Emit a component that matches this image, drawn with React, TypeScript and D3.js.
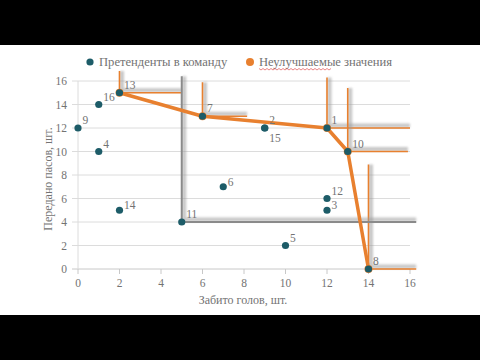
import React from "react";
import * as d3 from "d3";

const ids = [1, 2, 3, 4, 5, 6, 7, 8, 9, 10, 11, 12, 13, 14, 15, 16];
const goals = [12, 9, 12, 1, 10, 7, 6, 14, 0, 13, 5, 12, 2, 2, 9, 1];
const passes = [12, 12, 5, 10, 2, 7, 13, 0, 12, 10, 4, 6, 15, 5, 12, 14];
const labelBelow = [15];
const labelLow = [3, 6, 14];

const paretoGoals = [2, 6, 12, 13, 14];
const paretoPasses = [15, 13, 12, 10, 0];

// dominance corners: point, top of vertical arm, end of horizontal arm
const cornerX = [2, 6, 12, 13, 14, 5];
const cornerY = [15, 13, 12, 10, 0, 4];
const cornerTop = [16.85, 15.9, 16.3, 15.4, 8.9, 16.4];
const cornerRight = [5, 8.15, 16, 15.9, 16.3, 16.3];
const cornerPareto = [true, true, true, true, true, false];

const xTicks = [0, 2, 4, 6, 8, 10, 12, 14, 16];
const yTicks = [0, 2, 4, 6, 8, 10, 12, 14, 16];

const legendLabels = ["Претенденты в команду", "Неулучшаемые значения"];
const xTitle = "Забито голов, шт.";
const yTitle = "Передано пасов, шт.";

const W = 480;
const H = 360;
const TEAL = "#1d5c68";
const ORANGE = "#e8802f";
const TEXT = "#737373";
const FONT = "'Liberation Serif', 'DejaVu Serif', serif";

export default function App() {
  const x = d3.scaleLinear().domain([0, 16]).range([78, 410]);
  const y = d3.scaleLinear().domain([0, 16]).range([269, 81]);

  const paretoLine = d3
    .line<number>()
    .x((i) => x(paretoGoals[i]))
    .y((i) => y(paretoPasses[i]));

  const wave = d3.range(0, 37).map((i) => [259 + i * 2, 68.5 + (i % 2 === 0 ? 0 : 1.5)] as [number, number]);

  return (
    <svg
      width={W}
      height={H}
      style={{ position: "absolute", left: 0, top: 0, background: "#fff" }}
      fontFamily={FONT}
    >
      <defs>
        <filter id="sh" x="-20%" y="-20%" width="140%" height="140%">
          <feGaussianBlur stdDeviation="0.8" />
        </filter>
      </defs>
      <rect x={0} y={45} width={W} height={270} fill="#fff" />

      {/* grid */}
      {yTicks.map((t) => (
        <g key={"gy" + t}>
          <line x1={72} x2={410} y1={y(t)} y2={y(t)} stroke={t === 0 ? "#c8c8c8" : "#dcdcdc"} strokeWidth={1} />
          <text x={67} y={y(t) + 4} textAnchor="end" fontSize={11.5} fill={TEXT}>
            {t}
          </text>
        </g>
      ))}
      <line x1={x(0)} x2={x(0)} y1={y(0)} y2={y(16)} stroke="#dcdcdc" strokeWidth={1} />
      {xTicks.map((t) => (
        <g key={"gx" + t}>
          <line x1={x(t)} x2={x(t)} y1={y(0)} y2={y(0) + 5} stroke="#c8c8c8" strokeWidth={1} />
          <text x={x(t)} y={y(0) + 18} textAnchor="middle" fontSize={11.5} fill={TEXT}>
            {t}
          </text>
        </g>
      ))}

      {/* axis titles */}
      <text x={243} y={304} textAnchor="middle" fontSize={12} fill={TEXT}>
        {xTitle}
      </text>
      <text
        transform={`translate(52, ${179}) rotate(-90)`}
        textAnchor="middle"
        fontSize={12}
        fill={TEXT}
      >
        {yTitle}
      </text>

      {/* dominance corners */}
      {cornerX.map((cx, i) => {
        const px = x(cx);
        const py = y(cornerY[i]);
        const top = y(cornerTop[i]);
        const right = x(cornerRight[i]);
        const band = `M${px + 2.5},${top} L${px + 2.5},${py - 2.5} L${right},${py - 2.5}`;
        const edge = `M${px},${top} L${px},${py} L${right},${py}`;
        const pareto = cornerPareto[i];
        return (
          <g key={"c" + i}>
            <path d={band} fill="none" stroke="#9a9a9a" strokeWidth={4} opacity={0.55} filter="url(#sh)" />
            <path
              d={edge}
              fill="none"
              stroke={pareto ? ORANGE : "#8a8a8a"}
              strokeWidth={pareto ? 1.6 : 2}
            />
          </g>
        );
      })}

      {/* pareto front */}
      <path
        d={paretoLine(d3.range(paretoGoals.length)) || ""}
        fill="none"
        stroke={ORANGE}
        strokeWidth={3.5}
        strokeLinejoin="round"
      />
      {paretoGoals.map((g, i) => (
        <circle key={"pp" + i} cx={x(g)} cy={y(paretoPasses[i])} r={4} fill={ORANGE} />
      ))}

      {/* candidates */}
      {ids.map((id, i) => (
        <g key={"p" + id}>
          <circle cx={x(goals[i])} cy={y(passes[i])} r={3.6} fill={TEAL} />
          <text
            x={x(goals[i]) + 4.5}
            y={y(passes[i]) + (labelBelow.includes(id) ? 14 : labelLow.includes(id) ? -1 : -4)}
            fontSize={11.5}
            fill={TEXT}
          >
            {id}
          </text>
        </g>
      ))}

      {/* legend */}
      <circle cx={90} cy={62} r={3.6} fill={TEAL} />
      <text x={99} y={66} fontSize={12.6} fill={TEXT}>
        {legendLabels[0]}
      </text>
      <circle cx={250} cy={62} r={4} fill={ORANGE} />
      <text x={259} y={66} fontSize={12.6} fill={TEXT}>
        {legendLabels[1]}
      </text>
      <path d={d3.line()(wave) || ""} fill="none" stroke="#e05050" strokeWidth={0.7} />

      {/* letterbox */}
      <rect x={0} y={0} width={W} height={45} fill="#000" />
      <rect x={0} y={315} width={W} height={45} fill="#000" />
    </svg>
  );
}
